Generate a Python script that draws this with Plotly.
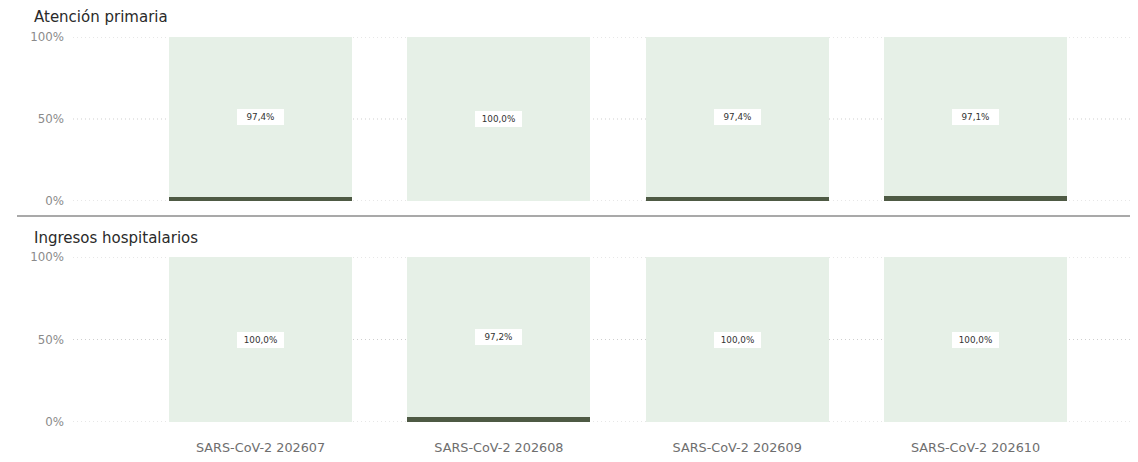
import plotly.graph_objects as go

categories = ["SARS-CoV-2 202607", "SARS-CoV-2 202608", "SARS-CoV-2 202609", "SARS-CoV-2 202610"]
panels = ["Atención primaria", "Ingresos hospitalarios"]
ap_main = [97.4, 100.0, 97.4, 97.1]
ap_other = [2.6, 0.0, 2.6, 2.9]
ih_main = [100.0, 97.2, 100.0, 100.0]
ih_other = [0.0, 2.8, 0.0, 0.0]
y_ticks = [0, 50, 100]
y_ticklabels = ["0%", "50%", "100%"]

LIGHT = "#e6f0e7"
DARK = "#4e5a44"
GRID = "#cfcfcf"
FONT = "DejaVu Sans"

OFF = 8  # page body offset
W, H = 1138 - OFF, 462 - OFF
mt, mb, ml, mr = 37 - OFF, 40, 73 - OFF, 0
ph = H - mt - mb
pw = W - ml - mr

def fy(py):
    return 1 - (py - OFF - mt) / ph

def fx(px):
    return (px - OFF - ml) / pw

fig = go.Figure()
data = [(ap_other, ap_main, "x", "y"), (ih_other, ih_main, "x2", "y2")]
for i, (other, main, xa, ya) in enumerate(data):
    fig.add_trace(go.Bar(x=categories, y=other, marker_color=DARK, marker_line_width=0,
                         xaxis=xa, yaxis=ya, showlegend=False, hoverinfo="skip"))
    fig.add_trace(go.Bar(x=categories, y=main, marker_color=LIGHT, marker_line_width=0,
                         xaxis=xa, yaxis=ya, showlegend=False, hoverinfo="skip"))
    for c, o, m in zip(categories, other, main):
        fig.add_annotation(x=c, y=o + m / 2, xref=xa, yref=ya,
                           text=f"{m:.1f}%".replace(".", ","), showarrow=False,
                           font=dict(family=FONT, size=8.8, color="#333"),
                           width=42, height=11,
                           bgcolor="white", bordercolor="white", borderpad=1.5)
    # gridlines (drawn as shapes so edge lines at 0% / 100% are visible)
    for t in y_ticks:
        fig.add_shape(type="line", xref=xa + " domain", yref=ya, x0=0, x1=1, y0=t, y1=t,
                      layer="below", line=dict(color=GRID, width=1, dash="1px,3px"))

xr = [-0.787, 3.682]
ax_common = dict(range=[0, 100], tickvals=y_ticks, ticktext=y_ticklabels,
                 showgrid=False, zeroline=False, showline=False, ticks="", ticklen=0,
                 ticklabelstandoff=8,
                 tickfont=dict(family=FONT, size=11.8, color="#8a8a8a"), fixedrange=True)
fig.update_layout(
    width=W, height=H, barmode="stack", bargap=0.232,
    margin=dict(l=ml, r=mr, t=mt, b=mb),
    paper_bgcolor="white", plot_bgcolor="white",
    xaxis=dict(domain=[0, 1], range=xr, anchor="y", showticklabels=False,
               showgrid=False, zeroline=False, showline=False),
    xaxis2=dict(domain=[0, 1], range=xr, anchor="y2", showgrid=False, zeroline=False,
                showline=False, ticks="", ticklabelstandoff=16,
                tickfont=dict(family=FONT, size=12.8, color="#6e6e6e")),
    yaxis=dict(domain=[fy(201), fy(37)], anchor="x", **ax_common),
    yaxis2=dict(domain=[fy(422), fy(257)], anchor="x2", **ax_common),
)

for title, py in zip(panels, [17, 238]):
    fig.add_annotation(text=title, xref="paper", yref="paper", x=fx(32),
                       y=fy(py), xanchor="left", yanchor="middle", showarrow=False,
                       font=dict(family=FONT, size=15, color="#2a2a2a"))
fig.add_shape(type="line", xref="paper", yref="paper", x0=fx(17), x1=fx(1140),
              y0=fy(216), y1=fy(216), line=dict(color="#8c8c8c", width=1.3))

fig.write_html("out.html", config=dict(displayModeBar=False))
